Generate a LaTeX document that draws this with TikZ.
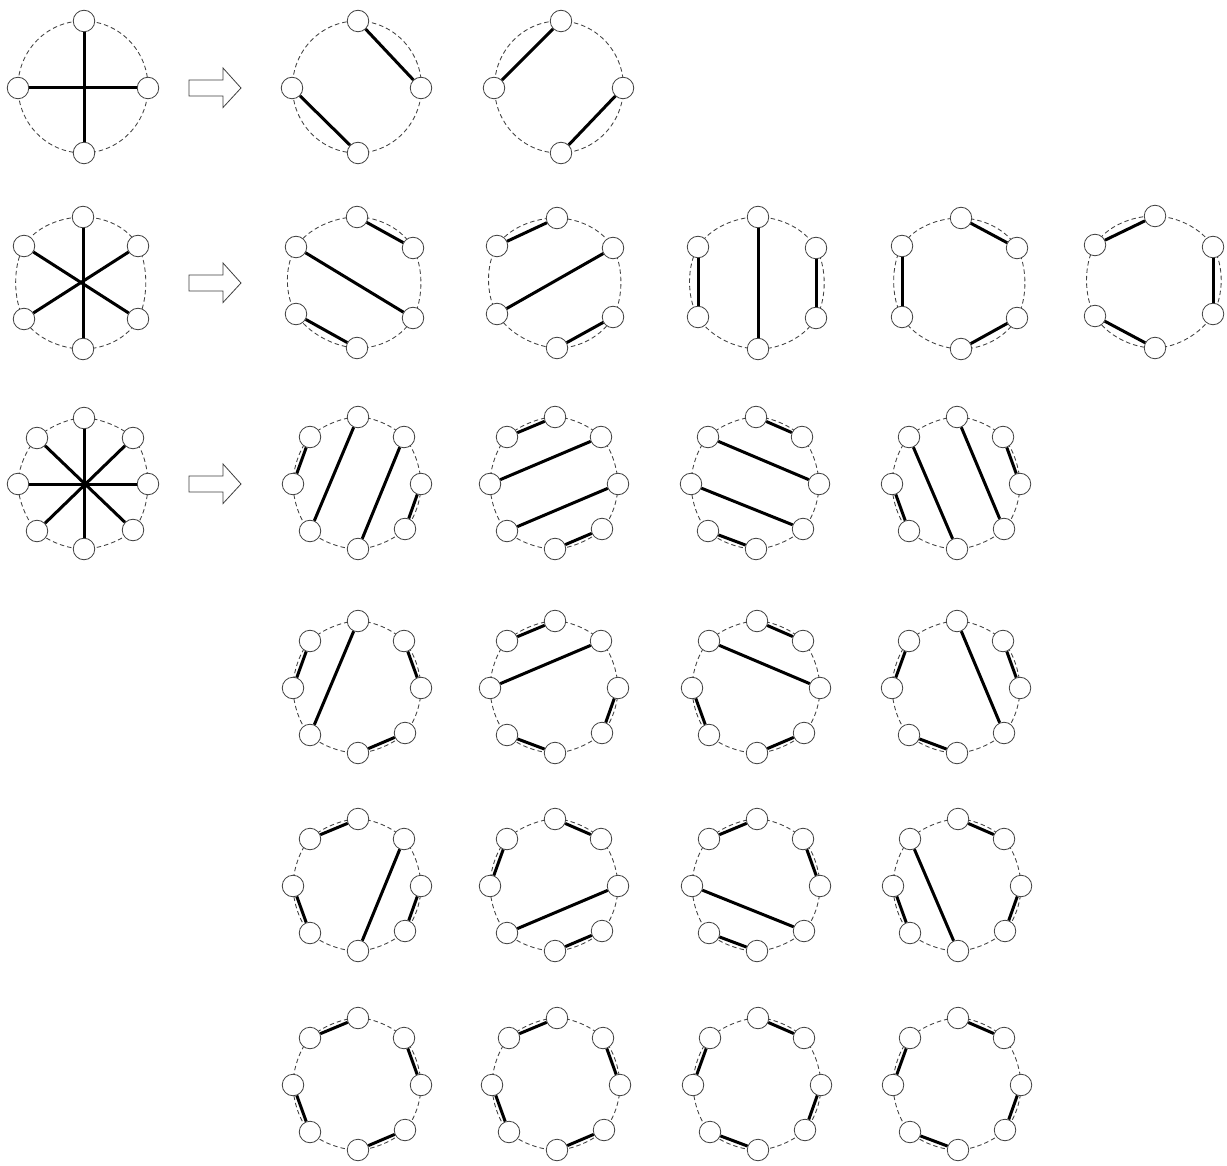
\documentclass[tikz,border=0pt]{standalone}
\begin{document}
\tikzset{
  vtx/.style={circle, draw=black!75, line width=0.8pt, fill=white, minimum size=21.5pt, inner sep=0pt},
  chord/.style={line width=3pt, black},
  ringline/.style={dash pattern=on 4.5pt off 3pt, line width=0.85pt, black!75},
  blockarrow/.style={draw=black!75, line width=0.8pt, fill=white, line join=miter},
}
\newcommand{\setpts}[2]{\foreach \k/\px/\py in {#2} {\coordinate (#1-p\k) at (\px,\py);}}
\newcommand{\placevtx}[2]{\foreach \k in {1,...,#2} {\node[vtx] (#1-\k) at (#1-p\k) {};}}
\newcommand{\joinv}[2]{\foreach \a/\b in {#2} {\draw[chord] (#1-\a) -- (#1-\b);}}
\newcommand{\ringsix}[1]{\draw[ringline] plot[smooth cycle, tension=0.68] coordinates {(#1-p1) (#1-p2) (#1-p3) (#1-p4) (#1-p5) (#1-p6)};}
\newcommand{\ringeight}[1]{\draw[ringline] plot[smooth cycle, tension=0.58] coordinates {(#1-p1) (#1-p2) (#1-p3) (#1-p4) (#1-p5) (#1-p6) (#1-p7) (#1-p8)};}
% #1 name, #2 ring centre, #3 x radius, #4 y radius, #5 points, #6 chords
\newcommand{\four}[6]{\setpts{#1}{#5}\draw[ringline] #2 ellipse [x radius=#3, y radius=#4];\placevtx{#1}{4}\joinv{#1}{#6}}
\newcommand{\six}[3]{\setpts{#1}{#2}\ringsix{#1}\placevtx{#1}{6}\joinv{#1}{#3}}
\newcommand{\eight}[3]{\setpts{#1}{#2}\ringeight{#1}\placevtx{#1}{8}\joinv{#1}{#3}}
\newcommand{\octR}[4]{%
  \begin{scope}[shift={(#2,#3)}]
    \setpts{#1}{1/1/-67, 2/47/-47, 3/64/0, 4/48/45, 5/1/65, 6/-47/47, 7/-64/0, 8/-47/-47}
  \end{scope}
  \ringeight{#1}\placevtx{#1}{8}\joinv{#1}{#4}}
\newcommand{\bigarrow}[1]{%
  \draw[blockarrow] (189,#1-8) -- (223,#1-8) -- (223,#1-20) -- (241,#1) -- (223,#1+19.5) -- (223,#1+8) -- (189,#1+8) -- cycle;}
\begin{tikzpicture}[x=1pt, y=-1pt]
\fill[white] (0,0) rectangle (1227,1166);
\useasboundingbox (0,0) rectangle (1227,1166);
% ---- row 1 ----
\four{a}{(83,87)}{65}{66}{1/84/21, 2/148/88, 3/84/153, 4/18/88}{1/3, 2/4}
\bigarrow{88}
\four{b}{(357,87)}{64.5}{66}{1/358/21, 2/421/88, 3/358/153, 4/292/88}{1/2, 4/3}
\four{c}{(559,87)}{64.5}{66}{1/561/21, 2/623/88, 3/561/153, 4/494/88}{1/4, 2/3}
% ---- row 2 ----
\six{d}{1/83/217, 2/138/246, 3/138/319, 4/83/349, 5/24/319, 6/24/246}{1/4, 2/5, 3/6}
\bigarrow{283}
\six{e}{1/357/217, 2/413/248, 3/413/318, 4/357/348, 5/296/314, 6/296/247}{1/2, 6/3, 5/4}
\six{f}{1/557/218, 2/613/248, 3/613/317, 4/557/348, 5/497/314, 6/497/246}{6/1, 5/2, 4/3}
\six{g}{1/758/217, 2/816/248, 3/816/318, 4/758/349, 5/698/317, 6/698/247}{6/5, 1/4, 2/3}
\six{h}{1/961/218, 2/1017/248, 3/1017/318, 4/961/349, 5/902/317, 6/902/246}{1/2, 6/5, 4/3}
\six{i}{1/1155/216, 2/1213/247, 3/1213/314, 4/1155/348, 5/1095/316, 6/1095/245}{6/1, 2/3, 5/4}
% ---- row 3 ----
\eight{j}{1/84/418, 2/133/438, 3/148/484, 4/133/530, 5/84/549, 6/37/531, 7/18/484, 8/37/438}{1/5, 2/6, 3/7, 4/8}
\bigarrow{484}
\octR{r3a}{357}{484}{8/7, 1/6, 2/5, 3/4}
\octR{r3b}{554}{484}{8/1, 7/2, 6/3, 5/4}
\octR{r3c}{755}{484}{1/2, 8/3, 7/4, 6/5}
\octR{r3d}{956}{484}{8/5, 1/4, 2/3, 7/6}
% ---- row 4 ----
\octR{r4a}{357}{688}{8/7, 1/6, 2/3, 4/5}
\octR{r4b}{554}{688}{8/1, 7/2, 3/4, 6/5}
\octR{r4c}{756}{688}{1/2, 8/3, 7/6, 5/4}
\octR{r4d}{956}{688}{1/4, 8/7, 2/3, 6/5}
% ---- row 5 ----
\octR{r5a}{357}{886}{8/1, 2/5, 7/6, 3/4}
\octR{r5b}{554}{886}{1/2, 8/7, 3/6, 4/5}
\octR{r5c}{756}{886}{8/1, 2/3, 7/4, 6/5}
\octR{r5d}{957}{886}{1/2, 8/5, 7/6, 3/4}
% ---- row 6 ----
\octR{r6a}{357}{1085}{8/1, 2/3, 7/6, 5/4}
\octR{r6b}{556}{1085}{8/1, 2/3, 7/6, 5/4}
\octR{r6c}{757}{1085}{1/2, 8/7, 3/4, 6/5}
\octR{r6d}{957}{1085}{1/2, 8/7, 3/4, 6/5}
\end{tikzpicture}
\end{document}
